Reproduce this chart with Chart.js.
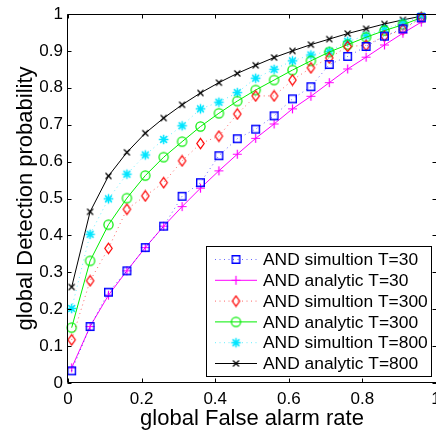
<!DOCTYPE html>
<html>
<head>
<meta charset="utf-8">
<script src="https://cdn.jsdelivr.net/npm/chart.js@4.4.0/dist/chart.umd.min.js"></script>
<style>
  html, body { margin: 0; padding: 0; background: #fff; overflow: hidden; }
  canvas { display: block; }
</style>
</head>
<body>
<canvas id="myChart" width="436" height="434"></canvas>
<script>
// global false alarm rate (x) shared by every curve
var falseAlarm = [0.01, 0.06, 0.11, 0.16, 0.21, 0.26, 0.31, 0.36, 0.41, 0.46,
                  0.51, 0.56, 0.61, 0.66, 0.71, 0.76, 0.81, 0.86, 0.91, 0.96];

// detection probability
var simT30 = [0.033, 0.153, 0.246, 0.304, 0.367, 0.425, 0.506, 0.543, 0.616, 0.662,
              0.688, 0.724, 0.770, 0.803, 0.863, 0.885, 0.912, 0.940, 0.960, 0.990];
var anaT30 = [0.041, 0.153, 0.238, 0.304, 0.367, 0.425, 0.478, 0.528, 0.575, 0.620,
              0.663, 0.702, 0.743, 0.777, 0.814, 0.851, 0.883, 0.916, 0.948, 0.978];
var simT300 = [0.117, 0.277, 0.365, 0.471, 0.507, 0.543, 0.602, 0.649, 0.669, 0.729,
               0.778, 0.778, 0.821, 0.854, 0.881, 0.912, 0.915, 0.940, 0.958, 0.990];
var anaT300 = [0.150, 0.331, 0.429, 0.501, 0.562, 0.612, 0.654, 0.695, 0.731, 0.764,
               0.794, 0.821, 0.848, 0.873, 0.897, 0.917, 0.937, 0.955, 0.971, 0.990];
var simT800 = [0.202, 0.403, 0.499, 0.566, 0.618, 0.660, 0.697, 0.743, 0.761, 0.787,
               0.826, 0.850, 0.873, 0.889, 0.899, 0.926, 0.941, 0.959, 0.976, 0.994];
var anaT800 = [0.260, 0.464, 0.561, 0.625, 0.677, 0.718, 0.754, 0.786, 0.814, 0.839,
               0.861, 0.882, 0.900, 0.917, 0.932, 0.947, 0.960, 0.973, 0.984, 0.994];

var seriesNames = ["AND simultion T=30", "AND analytic T=30",
                   "AND simultion T=300", "AND analytic T=300",
                   "AND simultion T=800", "AND analytic T=800"];

var xTicks = [0, 0.2, 0.4, 0.6, 0.8, 1];
var xTickLabels = ["0", "0.2", "0.4", "0.6", "0.8", "1"];
var yTicks = [0, 0.1, 0.2, 0.3, 0.4, 0.5, 0.6, 0.7, 0.8, 0.9, 1];
var yTickLabels = ["0", "0.1", "0.2", "0.3", "0.4", "0.5", "0.6", "0.7", "0.8", "0.9", "1"];

var FONT = "'Liberation Sans', Arial, Helvetica, sans-serif";

// matlab-ish marker glyphs drawn on little canvases
function marker(kind, color) {
  var c = document.createElement("canvas");
  c.width = 13; c.height = 13;
  var g = c.getContext("2d");
  var m = 6.5;
  g.strokeStyle = color;
  g.lineWidth = 1.2;
  g.beginPath();
  if (kind == "square") {
    g.lineWidth = 1.4;
    g.rect(m - 3.8, m - 3.8, 7.6, 7.6);
  } else if (kind == "diamond") {
    g.moveTo(m, m - 5.2); g.lineTo(m + 3.7, m); g.lineTo(m, m + 5.2); g.lineTo(m - 3.7, m); g.closePath();
  } else if (kind == "circle") {
    g.arc(m, m, 4.6, 0, Math.PI * 2);
  } else if (kind == "plus") {
    g.moveTo(m - 4.5, m); g.lineTo(m + 4.5, m); g.moveTo(m, m - 4.5); g.lineTo(m, m + 4.5);
  } else if (kind == "star") {
    g.lineWidth = 1.5;
    g.moveTo(m - 4.8, m); g.lineTo(m + 4.8, m); g.moveTo(m, m - 4.8); g.lineTo(m, m + 4.8);
    g.moveTo(m - 3.4, m - 3.4); g.lineTo(m + 3.4, m + 3.4); g.moveTo(m - 3.4, m + 3.4); g.lineTo(m + 3.4, m - 3.4);
  } else {
    g.moveTo(m - 3, m - 3); g.lineTo(m + 3, m + 3); g.moveTo(m - 3, m + 3); g.lineTo(m + 3, m - 3);
  }
  g.stroke();
  return c;
}

function series(i, values, color, kind, dotted) {
  return {
    label: seriesNames[i],
    data: falseAlarm.map(function (x, k) { return { x: x, y: values[k] }; }),
    borderColor: dotted ? Chart.helpers.color(color).alpha(0.6).rgbString() : color,
    backgroundColor: color,
    markerColor: color,
    borderWidth: 1,
    borderDash: dotted ? [1, 3.5] : [],
    pointStyle: marker(kind, color),
    pointRadius: 3,
    tension: 0,
    fill: false,
    clip: false
  };
}

var datasets = [
  series(0, simT30, "#0000ff", "square", true),
  series(1, anaT30, "#ff00ff", "plus", false),
  series(2, simT300, "#ff0000", "diamond", true),
  series(3, anaT300, "#00ee00", "circle", false),
  series(4, simT800, "#00e5ff", "star", true),
  series(5, anaT800, "#000000", "x", false)
];

// box, inward ticks on all four sides
var framePlugin = {
  id: "frame",
  afterDatasetsDraw: function (chart) {
    var ctx = chart.ctx, a = chart.chartArea;
    var xs = chart.scales.x, ys = chart.scales.y;
    var t = 4;
    ctx.save();
    ctx.strokeStyle = "#000";
    ctx.lineWidth = 1;
    ctx.beginPath();
    var L = Math.round(a.left) - 0.5, R = a.right + 0.5, T = Math.round(a.top) + 0.5, B = Math.round(a.bottom) - 0.5;
    ctx.moveTo(L, T); ctx.lineTo(R, T);
    ctx.moveTo(L, B); ctx.lineTo(R, B);
    ctx.moveTo(L, T); ctx.lineTo(L, B);
    ctx.moveTo(R, T); ctx.lineTo(R, B);
    xTicks.forEach(function (v) {
      var px = Math.round(xs.getPixelForValue(v)) + 0.5;
      ctx.moveTo(px, B); ctx.lineTo(px, B - t);
      ctx.moveTo(px, T); ctx.lineTo(px, T + t);
    });
    yTicks.forEach(function (v) {
      var py = Math.round(ys.getPixelForValue(v)) + 0.5;
      ctx.moveTo(L, py); ctx.lineTo(L + t, py);
      ctx.moveTo(R, py); ctx.lineTo(R - t, py);
    });
    ctx.stroke();
    ctx.restore();
  },
  afterDraw: function (chart) {
    // legend box like matlab's
    var ctx = chart.ctx;
    var bx = 206.5, by = 246.5, bw = 225, bh = 130;
    ctx.save();
    ctx.fillStyle = "#fff";
    ctx.fillRect(bx, by, bw, bh);
    ctx.strokeStyle = "#000";
    ctx.lineWidth = 1;
    ctx.strokeRect(bx, by, bw, bh);
    ctx.font = "17.4px " + FONT;
    ctx.textBaseline = "middle";
    ctx.fillStyle = "#000";
    chart.data.datasets.forEach(function (ds, i) {
      var y = 259.5 + i * 20.8;
      ctx.strokeStyle = ds.borderColor;
      ctx.lineWidth = 1;
      ctx.setLineDash(ds.borderDash);
      ctx.beginPath();
      ctx.moveTo(215, y); ctx.lineTo(257, y);
      ctx.stroke();
      ctx.setLineDash([]);
      ctx.drawImage(ds.pointStyle, 236 - 6.5, y - 6.5);
      ctx.fillText(ds.label, 263, y + 1);
    });
    ctx.restore();
  }
};

var ctx = document.getElementById("myChart").getContext("2d");
var chart = new Chart(ctx, {
  type: "line",
  data: { datasets: datasets },
  options: {
    responsive: false,
    animation: false,
    devicePixelRatio: 1,
    layout: { autoPadding: false, padding: { top: 14, right: 0, left: 0, bottom: 0 } },
    plugins: { legend: { display: false }, tooltip: { enabled: false } },
    scales: {
      x: {
        type: "linear",
        min: 0,
        max: 1,
        grid: { display: false, drawTicks: false },
        border: { display: false },
        afterBuildTicks: function (s) { s.ticks = xTicks.map(function (v) { return { value: v }; }); },
        afterFit: function (s) { s.height = 51; s.paddingLeft = 0; s.paddingRight = 0; },
        ticks: {
          padding: 6,
          maxRotation: 0,
          color: "#000",
          font: { family: FONT, size: 17 },
          callback: function (v, i) { return xTickLabels[i]; }
        },
        title: {
          display: true,
          text: "global False alarm rate",
          color: "#000",
          font: { family: FONT, size: 22 },
          padding: { top: 0, bottom: 1.5 }
        }
      },
      y: {
        type: "linear",
        min: 0,
        max: 1,
        grid: { display: false, drawTicks: false },
        border: { display: false },
        afterBuildTicks: function (s) { s.ticks = yTicks.map(function (v) { return { value: v }; }); },
        afterFit: function (s) { s.width = 68; s.paddingTop = 0; s.paddingBottom = 0; },
        ticks: {
          padding: 5,
          color: "#000",
          font: { family: FONT, size: 17 },
          callback: function (v, i) { return yTickLabels[i]; }
        },
        title: {
          display: true,
          text: "global Detection probability",
          color: "#000",
          font: { family: FONT, size: 22 },
          padding: { top: 13, bottom: 0 }
        }
      }
    }
  },
  plugins: [framePlugin]
});
</script>
</body>
</html>
